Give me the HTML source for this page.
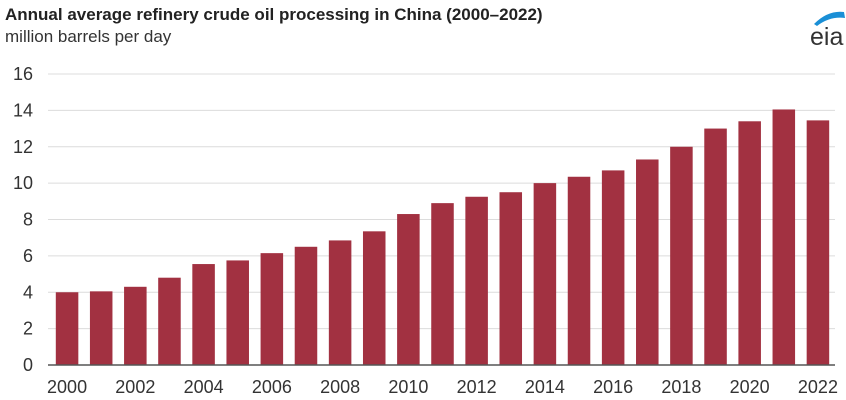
<!DOCTYPE html>
<html><head><meta charset="utf-8"><style>
body{margin:0;background:#fff;width:846px;height:400px;overflow:hidden;font-family:"Liberation Sans",sans-serif}
svg{display:block}
</style></head><body>
<svg width="846" height="400">
<text x="5" y="20" font-size="17" font-weight="bold" fill="#222">Annual average refinery crude oil processing in China (2000–2022)</text>
<text x="5" y="42" font-size="17" fill="#333">million barrels per day</text>
<g>
<path d="M814 24 Q828 10 844 12 L845 18 Q830 16 817 26 Z" fill="#1a8fd6"/>
<text x="810" y="45" font-size="25" fill="#333">eia</text>
</g>
<g id="grid"></g><g id="bars"></g><g id="xlab"></g>
</svg>
<script>
const years=["2000","2001","2002","2003","2004","2005","2006","2007","2008","2009","2010","2011","2012","2013","2014","2015","2016","2017","2018","2019","2020","2021","2022"];
const values=[4.0,4.05,4.3,4.8,5.55,5.75,6.15,6.5,6.85,7.35,8.3,8.9,9.25,9.5,10.0,10.35,10.7,11.3,12.0,13.0,13.4,14.05,13.45];
const yTicks=[0,2,4,6,8,10,12,14,16];
const NS="http://www.w3.org/2000/svg";
const L=50,R=835,Y0=365,Y1=74,YMAX=16;
const y=v=>Y0-(v/YMAX)*(Y0-Y1);
const step=(R-L)/years.length;
const x=i=>L+i*step;
const bw=step*0.66;
function mk(t,a,p){const e=document.createElementNS(NS,t);for(const k in a)e.setAttribute(k,a[k]);p.appendChild(e);return e;}
const g=document.getElementById('grid'),b=document.getElementById('bars'),xl=document.getElementById('xlab');
yTicks.forEach(t=>{
 if(t>0){const l=mk('line',{x1:L-2,x2:R,y1:y(t),y2:y(t),stroke:'#dcdcdc','stroke-width':1},g);
 
 }
 const tx=mk('text',{x:33,y:y(t)+6,'font-size':18,fill:'#333','text-anchor':'end'},g);
 tx.textContent=t;
 
 
});
values.forEach((v,i)=>{
 const r=mk('rect',{x:x(i)+(step-bw)/2,y:y(v),width:bw,height:Y0-y(v),fill:'#a23141'},b);
 
 
 if(i%2===0){const t=mk('text',{x:x(i)+step/2,y:393,'font-size':18,fill:'#333','text-anchor':'middle'},xl);
 t.textContent=years[i];
 
 }
});
const ax=mk('line',{x1:L-2,x2:R,y1:Y0,y2:Y0,stroke:'#555','stroke-width':1.5},xl);


</script>
</body></html>
